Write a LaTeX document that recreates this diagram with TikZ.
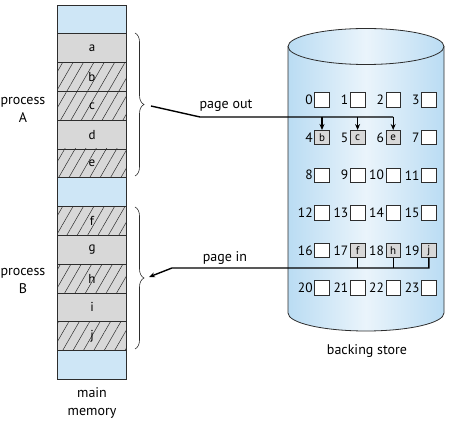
\documentclass[tikz,border=0pt]{standalone}
\usepackage{fontspec}
\setmainfont{PT Sans}
\usetikzlibrary{arrows.meta,decorations.pathreplacing,patterns.meta}
\definecolor{memblue}{RGB}{206,230,246}
\definecolor{cellgray}{RGB}{216,216,216}
\definecolor{diskedge}{RGB}{186,220,243}
\definecolor{diskmid}{RGB}{234,244,251}
\definecolor{linegray}{RGB}{45,45,45}

\begin{document}
\begin{tikzpicture}[x=1pt,y=1pt,
	mem/.style={draw=linegray, line width=0.8pt, fill=cellgray, minimum width=69pt,
		minimum height=28.8pt, inner sep=0pt, font=\fontsize{13}{15}\selectfont},
	freemem/.style={mem, fill=memblue},
	outmem/.style={mem, postaction={pattern={Lines[angle=60,distance=9pt,line width=0.5pt]},
		pattern color=linegray}},
	slot/.style={draw=linegray, line width=0.7pt, fill=white, minimum size=14.5pt,
		inner sep=0pt, font=\fontsize{11}{13}\selectfont},
	used/.style={slot, fill=cellgray},
	num/.style={anchor=east, inner sep=1.5pt, font=\fontsize{13.5}{15}\selectfont},
	lbl/.style={align=center, inner sep=1pt, font=\fontsize{14}{18}\selectfont},
	link/.style={line width=1.4pt, draw=black},
	brc/.style={decorate, decoration={brace, amplitude=9pt}, line width=0.6pt, draw=linegray}]
	\useasboundingbox (0,0) rectangle (456,423);

	% backing store cylinder
	\shade[left color=diskedge, right color=diskedge, middle color=diskmid]
		(288,376.5) -- (288,110) arc[start angle=180, end angle=360, x radius=78, y radius=18]
		-- (444,376.5) arc[start angle=0, end angle=180, x radius=78, y radius=18] -- cycle;
	\draw[line width=0.8pt, linegray] (288,376.5) -- (288,110)
		arc[start angle=180, end angle=360, x radius=78, y radius=18] -- (444,376.5);
	\draw[line width=0.8pt, linegray] (366,376.5) ellipse[x radius=78, y radius=18];

	% main memory, top to bottom
	\node[freemem] (m0) at (92,403.6) {};
	\node[mem] (ma) at (92,374.8) {a};
	\node[outmem] (mb) at (92,346) {b};
	\node[outmem] (mc) at (92,317.2) {c};
	\node[mem] (md) at (92,288.4) {d};
	\node[outmem] (me) at (92,259.6) {e};
	\node[freemem] (m6) at (92,230.8) {};
	\node[outmem] (mf) at (92,202) {f};
	\node[mem] (mg) at (92,173.2) {g};
	\node[outmem] (mh) at (92,144.4) {h};
	\node[mem] (mi) at (92,115.6) {i};
	\node[outmem] (mj) at (92,86.8) {j};
	\node[freemem] (m12) at (92,58) {};

	% slots of the backing store
	\foreach \r in {0,...,5}
		\foreach \c in {0,...,3} {
			\pgfmathtruncatemacro\n{4*\r+\c}
			\node[slot] (slot\n) at (322+35.6*\c, 323-37.6*\r) {};
			\node[num] (num\n) at (slot\n.west) {\n};
		}
	\node[used] (diskb) at (slot4) {b};
	\node[used] (diskc) at (slot5) {c};
	\node[used] (diske) at (slot6) {e};
	\node[used] (diskf) at (slot17) {f};
	\node[used] (diskh) at (slot18) {h};
	\node[used] (diskj) at (slot19) {j};

	% braces
	\draw[brc] (135,390) -- (135,247);
	\draw[brc] (135,216) -- (135,74);
	\coordinate (tipA) at (151,317);
	\coordinate (tipB) at (149,146);

	% page out
	\coordinate (outbend) at (200,306);
	\draw[link] (tipA) -- (outbend) -- (outbend -| diske.north);
	\foreach \p in {b,c,e}
		\draw[link, -{Stealth[length=6pt,width=5pt]}] (outbend -| disk\p.north) -- (disk\p.north);

	% page in
	\coordinate (inbend) at (172,155);
	\draw[link, -{Stealth[length=6pt,width=5pt]}] (diskj.south) -- (diskj.south |- inbend)
		-- (inbend) -- (tipB);
	\draw[link] (diskf.south) -- (diskf.south |- inbend);
	\draw[link] (diskh.south) -- (diskh.south |- inbend);

	% labels
	\node[lbl] (procA) at (23,313) {process\\A};
	\node[lbl] (procB) at (23,142) {process\\B};
	\node[lbl] (mainmem) at (92,20) {main\\memory};
	\node[lbl] (store) at (367,72) {backing store};
	\node[lbl] (outtxt) at (226,317) {page out};
	\node[lbl] (intxt) at (225,165) {page in};
\end{tikzpicture}
\end{document}
